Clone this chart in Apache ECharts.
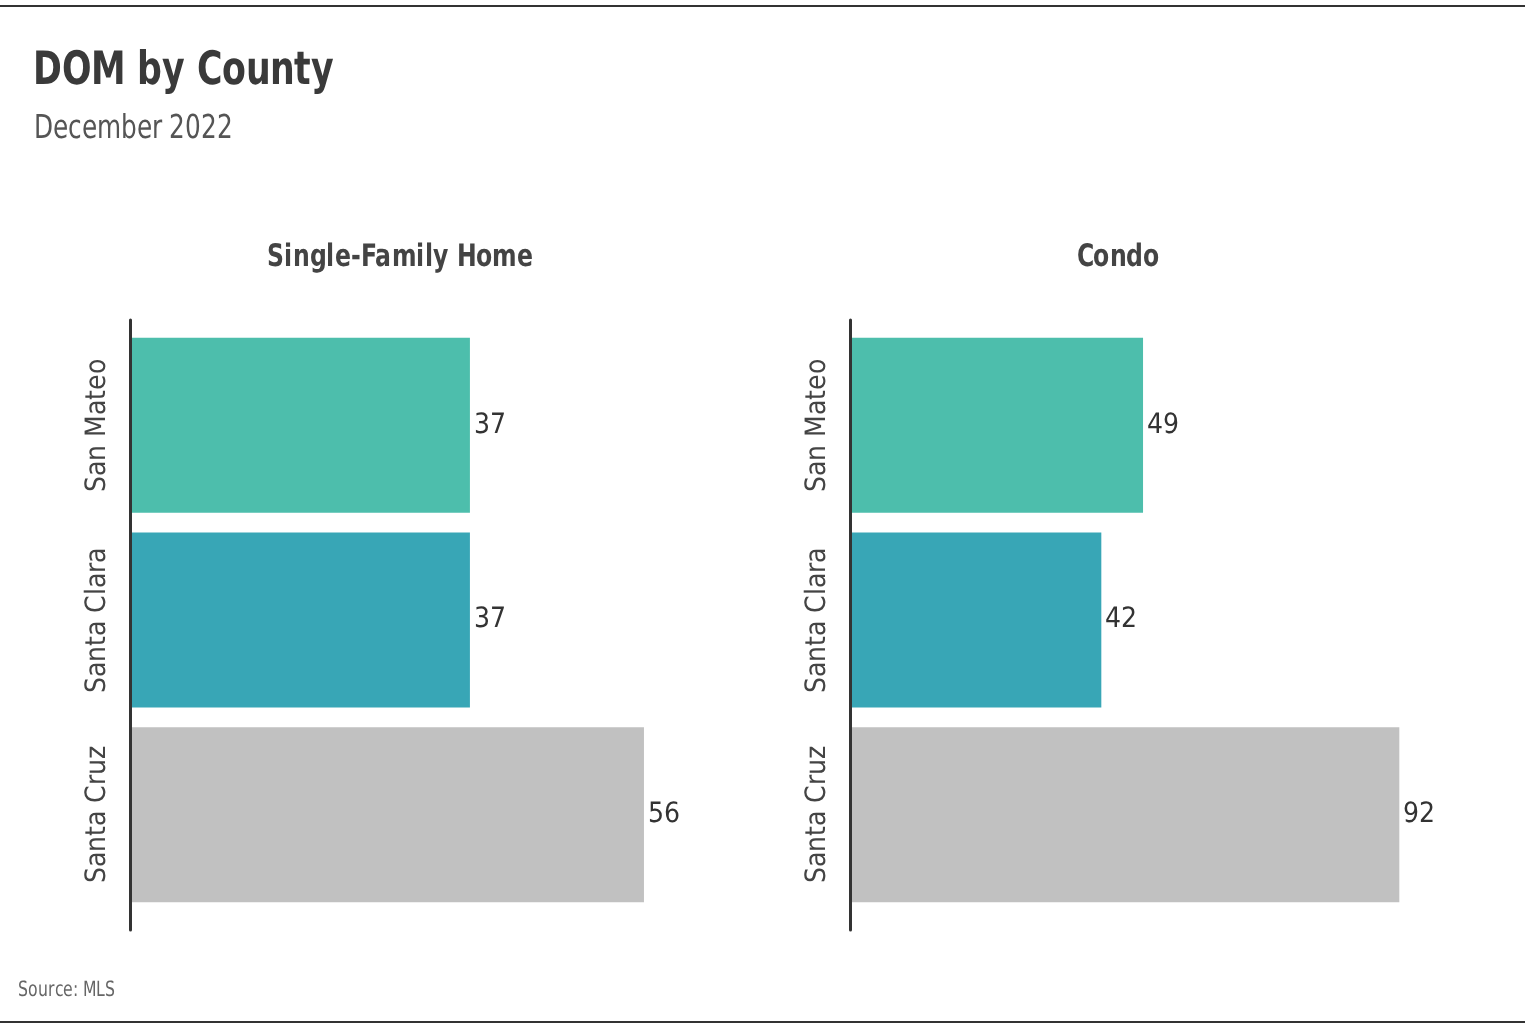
<!DOCTYPE html>
<html><head><meta charset="utf-8">
<script src="https://cdn.jsdelivr.net/npm/echarts@6/dist/echarts.min.js"></script>
<style>
@font-face{font-family:'NarrowF';font-weight:400;src:local('Liberation Sans Narrow'),local('LiberationSansNarrow-Regular'),local('DejaVu Sans Condensed'),local('DejaVuSansCondensed');}
@font-face{font-family:'NarrowF';font-weight:700;src:local('Liberation Sans Narrow Bold'),local('LiberationSansNarrow-Bold'),local('DejaVu Sans Condensed Bold'),local('DejaVuSansCondensed-Bold');}
html,body{margin:0;padding:0;background:#fff}#c{width:1536px;height:1036px}</style>
</head><body><div id="c"></div>
<script>
const categories = ['San Mateo', 'Santa Clara', 'Santa Cruz'];
const singleFamily = [37, 37, 56];
const condo = [49, 42, 92];
const barColors = ['#4DBEAC', '#38A6B6', '#C1C1C1'];
const panelTitles = ['Single-Family Home', 'Condo'];

const narrow = 'NarrowF, "DejaVu Sans", sans-serif';

function draw(){
  const chart = echarts.init(document.getElementById('c'));
  function dataOf(vals){ return vals.map((v,i)=>({value:v, itemStyle:{color:barColors[i]}})); }

  const grids = [
    {left:131, top:328, width:549.6, height:584},
    {left:851, top:328, width:596, height:584},
    {left:130, top:320, width:549.6, height:610},
    {left:850, top:320, width:596, height:610}
  ];
  const valueMax = [60, 100];

  const xAxes = [0,1,2,3].map(i=>({type:'value', gridIndex:i, min:0, max:valueMax[i%2], show:false}));
  const yAxes = [0,1].map(i=>({
    type:'category', gridIndex:i, data:categories, inverse:true,
    axisLine:{show:false}, axisTick:{show:false},
    axisLabel:{rotate:90, interval:0, margin:19, fontFamily:narrow, fontSize:28, color:'#444'}
  })).concat([2,3].map(i=>({
    type:'category', gridIndex:i, data:categories, inverse:true, z:10,
    axisLine:{show:true, lineStyle:{color:'#333', width:3}}, axisTick:{show:false}, axisLabel:{show:false}
  })));

  const labelStyle = {show:true, position:'right', distance:4, fontFamily:narrow, fontSize:28, color:'#333'};

  chart.setOption({
    animation:false,
    grid:grids,
    xAxis:xAxes,
    yAxis:yAxes,
    series:[
      {type:'bar', xAxisIndex:0, yAxisIndex:0, barWidth:175, data:dataOf(singleFamily), label:labelStyle},
      {type:'bar', xAxisIndex:1, yAxisIndex:1, barWidth:175, data:dataOf(condo), label:labelStyle}
    ],
    graphic:[
      {type:'line', shape:{x1:0,y1:6,x2:1525,y2:6}, style:{stroke:'#333', lineWidth:2}},
      {type:'line', shape:{x1:0,y1:1022,x2:1525,y2:1022}, style:{stroke:'#333', lineWidth:2}},
      {type:'text', x:33, y:72, scaleX:0.84, style:{text:'DOM by County', font:'bold 46px '+narrow, fill:'#3a3a3a', textVerticalAlign:'middle'}},
      {type:'text', x:34, y:129, scaleX:0.834, style:{text:'December 2022', font:'33px '+narrow, fill:'#555', textVerticalAlign:'middle'}},
      {type:'text', x:400, y:258, scaleX:0.845, style:{text:panelTitles[0], font:'bold 31px '+narrow, fill:'#444', textAlign:'center', textVerticalAlign:'middle'}},
      {type:'text', x:1118, y:258, scaleX:0.845, style:{text:panelTitles[1], font:'bold 31px '+narrow, fill:'#444', textAlign:'center', textVerticalAlign:'middle'}},
      {type:'text', x:18, y:991, scaleX:0.83, style:{text:'Source: MLS', font:'21px '+narrow, fill:'#666', textVerticalAlign:'middle'}}
    ]
  });
}
Promise.all([document.fonts.load('31px NarrowF'), document.fonts.load('bold 31px NarrowF')]).then(draw, draw);
</script></body></html>
